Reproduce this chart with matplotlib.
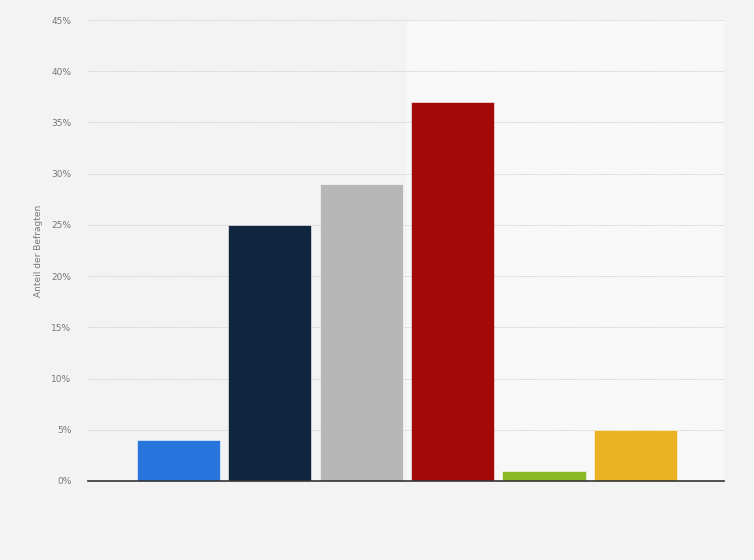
import matplotlib
matplotlib.use("Agg")
import matplotlib.pyplot as plt
from matplotlib.ticker import FuncFormatter

# values (percent of respondents)
categories = ["A", "B", "C", "D", "E", "F"]
values = [4, 25, 29, 37, 1, 5]
colors = ["#2876dd", "#10263e", "#b7b7b7", "#a20a0a", "#8ab925", "#e9b324"]
yticks = [0, 5, 10, 15, 20, 25, 30, 35, 40, 45]

def main():
    fig = plt.figure(figsize=(7.54, 5.6), dpi=100)
    fig.patch.set_facecolor("#f3f3f3")
    ax = fig.add_axes([88 / 754, 79 / 560, 636 / 754, 461 / 560])
    ax.set_facecolor("#f3f3f3")

    x = list(range(len(categories)))
    # lighter band behind the right part of the plot
    ax.axvspan(2.5, 5.97, color="#f8f8f8", zorder=0)

    ax.bar(x, values, width=0.91, color=colors, edgecolor="#ffffff",
           linewidth=0.4, zorder=3)

    ax.set_xlim(-0.99, 5.97)
    ax.set_ylim(0, 45)
    ax.set_yticks(yticks)
    ax.yaxis.set_major_formatter(FuncFormatter(lambda v, p: "%d%%" % v))
    ax.set_xticks([])
    ax.tick_params(axis="y", length=0, pad=12, labelsize=6.5, labelcolor="#777777")
    ax.grid(axis="y", color="#c4c4c4", linestyle=(0, (1, 1)), linewidth=0.6, zorder=1)

    for side in ["top", "right", "left"]:
        ax.spines[side].set_visible(False)
    ax.spines["bottom"].set_color("#333333")
    ax.spines["bottom"].set_linewidth(1.2)
    ax.spines["bottom"].set_zorder(4)

    ax.set_ylabel("Anteil der Befragten", fontsize=6.5, color="#777777", labelpad=6)

    fig.savefig("out.png", dpi=100, facecolor=fig.get_facecolor())

if __name__ == "__main__":
    main()
